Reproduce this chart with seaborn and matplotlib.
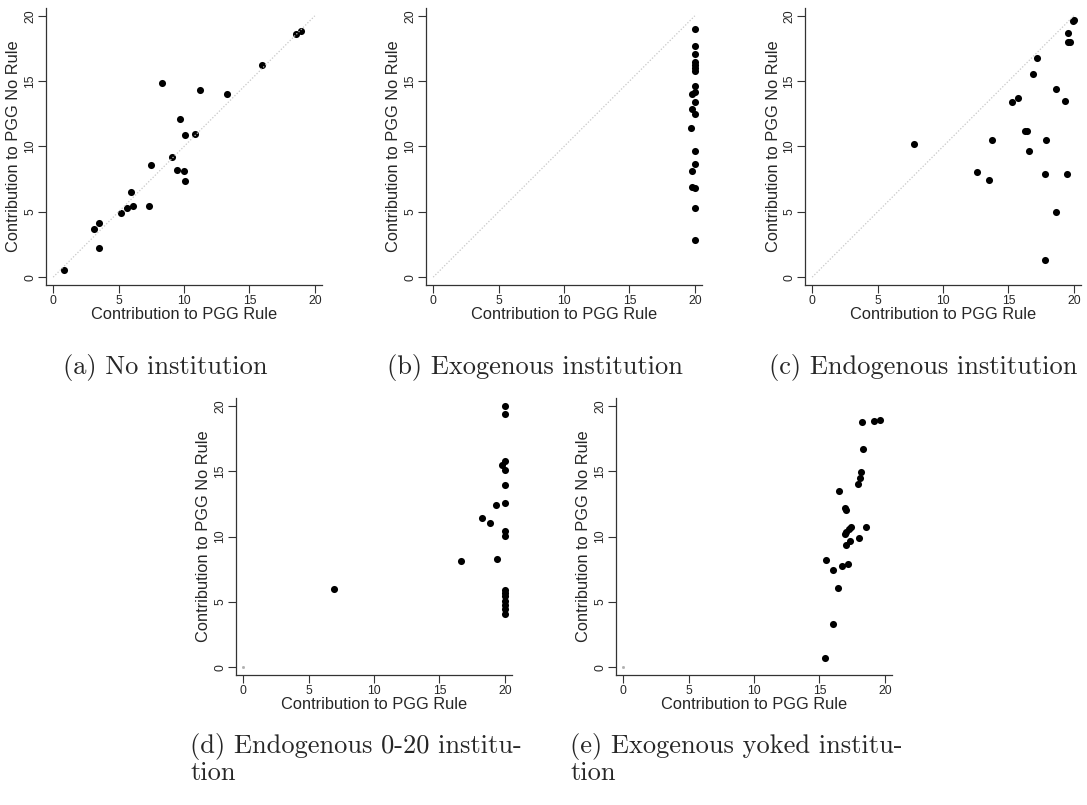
import seaborn as sns
import matplotlib.pyplot as plt
import pandas as pd
import numpy as np

# -----------------------------
# Data
# -----------------------------
a_rule = [0.84, 3.13, 3.54, 3.54, 5.20, 5.66, 5.91, 6.11, 7.31, 7.46, 8.31, 9.12,
          9.48, 9.73, 9.99, 10.04, 10.11, 10.83, 11.21, 13.25, 16.0, 18.57, 18.98]
a_norule = [0.51, 3.67, 4.13, 2.24, 4.90, 5.31, 6.53, 5.48, 5.48, 8.55, 14.87, 9.21,
            8.21, 12.07, 8.14, 7.37, 10.89, 10.92, 14.29, 14.03, 16.2, 18.6, 18.83]

b_rule = [20, 20, 20, 20, 20, 20, 20, 20, 20, 19.75, 20, 19.75, 20, 19.69,
          20, 20, 19.75, 19.82, 20, 20, 20]
b_norule = [19.0, 17.7, 17.07, 16.5, 16.25, 16.0, 15.8, 14.6, 14.2, 14.0, 13.37,
            12.86, 12.5, 11.4, 9.62, 8.65, 8.14, 6.89, 6.79, 5.26, 2.86]

c_rule = [7.82, 12.57, 13.51, 13.72, 15.27, 15.73, 16.30, 16.42, 16.58, 16.91,
          17.22, 17.78, 17.83, 17.85, 18.65, 18.65, 19.34, 19.47, 19.54, 19.72,
          19.59, 19.92, 20.0]
c_norule = [10.2, 8.04, 7.42, 10.46, 13.44, 13.70, 11.2, 11.2, 9.64, 15.54,
            16.76, 1.33, 7.93, 10.48, 14.39, 4.97, 13.52, 7.93, 17.98, 17.96,
            18.70, 19.57, 19.7]

d_rule = [6.93, 16.66, 18.29, 18.88, 19.39, 19.36, 20, 20, 19.82, 20, 20, 20,
          20, 20, 20, 20, 20, 20, 20, 20, 20, 20]
d_norule = [5.99, 8.13, 11.44, 11.03, 8.31, 12.38, 20.0, 19.36, 15.46, 15.8,
            15.08, 13.94, 12.56, 10.45, 10.06, 5.94, 5.68, 5.48, 5.04, 4.76,
            4.46, 4.08]

e_rule = [15.41, 15.5, 16.05, 16.05, 16.43, 16.51, 16.69, 16.95, 17.02, 16.95,
          17.07, 17.07, 17.28, 17.2, 17.33, 17.4, 18.04, 17.96, 18.14, 18.19,
          18.34, 18.27, 18.53, 19.2, 19.65]
e_norule = [0.69, 8.18, 3.34, 7.46, 6.09, 13.5, 7.77, 12.2, 12.0, 10.22,
            10.37, 9.35, 10.57, 7.87, 9.66, 10.73, 9.91, 14.0, 14.5, 14.97,
            16.71, 18.73, 10.73, 18.87, 18.93]

panels = [
    ("a", a_rule, a_norule, "(a) No institution", True),
    ("b", b_rule, b_norule, "(b) Exogenous institution", True),
    ("c", c_rule, c_norule, "(c) Endogenous institution", True),
    ("d", d_rule, d_norule, "(d) Endogenous 0-20 institu-\ntion", False),
    ("e", e_rule, e_norule, "(e) Exogenous yoked institu-\ntion", False),
]

# -----------------------------
# Styling
# -----------------------------
sns.set_style("ticks")
plt.rcParams["font.family"] = ["Liberation Sans", "DejaVu Sans"]

W, H = 1087, 805
fig = plt.figure(figsize=(W / 100, H / 100), dpi=100)

# left spine x, bottom spine y (pixels from top)
boxes = {"a": (46, 285), "b": (426, 285), "c": (805, 285),
         "d": (236, 675), "e": (616, 675)}
# caption anchor: centre x for top row, left x for bottom row; top y
caps = {"a": (165, 354), "b": (535, 354), "c": (923, 354),
        "d": (190, 733), "e": (570, 733)}
aw, ah = 276, 277

for key, xr, yr, cap, diag in panels:
    x0, y0 = boxes[key]
    ax = fig.add_axes([x0 / W, 1 - y0 / H, aw / W, ah / H])
    df = pd.DataFrame({"rule": xr, "norule": yr})
    if diag:
        ax.plot([0, 20], [0, 20], color="#c8c8c8", lw=0.9, ls=(0, (1, 1.5)))
    else:
        ax.plot([0], [0], marker="s", ms=1.0, color="#b0b0b0", ls="none")
    sns.scatterplot(data=df, x="rule", y="norule", ax=ax, color="black",
                    s=26, edgecolor="black", linewidth=0)
    ax.set_xlim(-0.55, 20.55)
    ax.set_ylim(-0.6, 20.6)
    ax.set_xticks([0, 5, 10, 15, 20])
    ax.set_yticks([0, 5, 10, 15, 20])
    ax.tick_params(labelsize=8.8, length=5.5, width=0.8, color="#333333", pad=1.5)
    for lab in ax.get_yticklabels():
        lab.set_rotation(90)
        lab.set_va("center")
    ax.set_xlabel("Contribution to PGG Rule", fontsize=11.8, labelpad=0)
    ax.set_ylabel("Contribution to PGG No Rule", fontsize=11.8, labelpad=2)
    sns.despine(ax=ax)
    for sp in ("left", "bottom"):
        ax.spines[sp].set_linewidth(0.9)
        ax.spines[sp].set_color("#333333")

    cx, cy = caps[key]
    fig.text(cx / W, 1 - cy / H, cap, ha="center" if diag else "left",
             va="top", family="cmr10", fontsize=19, linespacing=1.05)

plt.savefig("out.png", dpi=100)
plt.close()
